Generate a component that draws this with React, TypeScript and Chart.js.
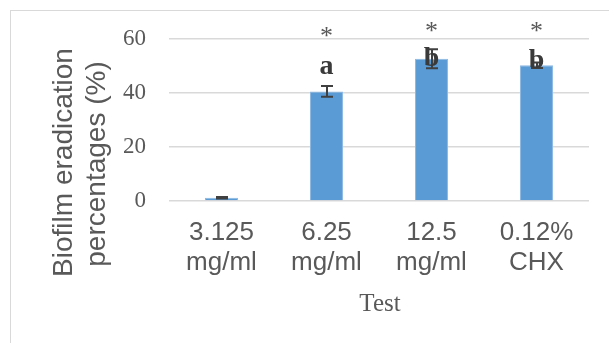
import React, { useEffect, useRef } from "react";
import { Chart, registerables } from "chart.js";

Chart.register(...registerables);

const categories: string[][] = [
  ["3.125", "mg/ml"],
  ["6.25", "mg/ml"],
  ["12.5", "mg/ml"],
  ["0.12%", "CHX"],
];
const values: number[] = [1.2, 40.6, 52.7, 50.3];
const errors: number[] = [0.3, 2, 3.5, 1];
const letters: string[] = ["", "a", "b", "b"];
const letterLevels: number[] = [0, 49.6, 52.6, 52.0];
const stars: string[] = ["", "*", "*", "*"];
const starLevels: number[] = [0, 62.6, 64.4, 64.4];
const yTicks: number[] = [0, 20, 40, 60];
const yTitle: string[] = ["Biofilm eradication", "percentages (%)"];
const xTitle = "Test";

const TEXT = "#595959";

const decorPlugin = {
  id: "decor",
  beforeDraw(chart: any) {
    const ctx = chart.ctx;
    ctx.save();
    ctx.strokeStyle = "#D9D9D9";
    ctx.lineWidth = 1;
    ctx.strokeRect(10.5, 10.5, 800, 600);
    ctx.restore();
  },
  afterDatasetsDraw(chart: any) {
    const ctx = chart.ctx;
    const meta = chart.getDatasetMeta(0);
    const ys = chart.scales.y;
    ctx.save();
    // error bars
    ctx.strokeStyle = "#404040";
    ctx.lineWidth = 2;
    meta.data.forEach((bar: any, i: number) => {
      const x = Math.round(bar.x);
      const top = ys.getPixelForValue(values[i] + errors[i]);
      const bot = ys.getPixelForValue(values[i] - errors[i]);
      ctx.beginPath();
      ctx.moveTo(x, top);
      ctx.lineTo(x, bot);
      ctx.moveTo(x - 6, top);
      ctx.lineTo(x + 6, top);
      ctx.moveTo(x - 6, bot);
      ctx.lineTo(x + 6, bot);
      ctx.stroke();
    });
    // letters
    ctx.textAlign = "center";
    ctx.textBaseline = "middle";
    meta.data.forEach((bar: any, i: number) => {
      if (letters[i]) {
        ctx.fillStyle = "#3A3A3A";
        ctx.font = "bold 28px 'Liberation Serif', 'Times New Roman', serif";
        ctx.fillText(letters[i], bar.x, ys.getPixelForValue(letterLevels[i]));
      }
      if (stars[i]) {
        ctx.fillStyle = TEXT;
        ctx.font = "26px 'Liberation Serif', 'Times New Roman', serif";
        ctx.fillText(stars[i], bar.x, ys.getPixelForValue(starLevels[i]) + 5);
      }
    });
    // axis titles
    ctx.fillStyle = TEXT;
    ctx.font = "28px 'Liberation Sans', Arial, sans-serif";
    ctx.textBaseline = "alphabetic";
    const baseX = [72, 105];
    const cY = [162.5, 164];
    yTitle.forEach((t, k) => {
      ctx.save();
      ctx.translate(baseX[k], cY[k]);
      ctx.rotate(-Math.PI / 2);
      ctx.fillText(t, 0, 0);
      ctx.restore();
    });
    ctx.font = "25px 'Liberation Serif', 'Times New Roman', serif";
    ctx.textBaseline = "middle";
    const xs = chart.scales.x;
    ctx.fillText(xTitle, (xs.left + xs.right) / 2 + 1, 304);
    ctx.restore();
  },
};

export default function App() {
  const ref = useRef<HTMLCanvasElement>(null);
  useEffect(() => {
    if (!ref.current) return;
    const chart = new Chart(ref.current, {
      type: "bar",
      data: {
        labels: categories,
        datasets: [
          {
            data: values,
            backgroundColor: "#5B9BD5",
            borderColor: "#8DB9E3",
            borderWidth: 1,
            categoryPercentage: 1,
            barPercentage: 0.314,
          },
        ],
      },
      options: {
        responsive: false,
        animation: false,
        layout: { padding: { top: 39, left: 0, right: 20, bottom: 0 } },
        plugins: { legend: { display: false }, tooltip: { enabled: false } },
        scales: {
          x: {
            grid: { display: false, drawTicks: false },
            border: { display: false },
            ticks: {
              color: TEXT,
              padding: 17,
              maxRotation: 0,
              autoSkip: false,
              font: { family: "'Liberation Sans', Arial, sans-serif", size: 26, lineHeight: 30 / 26 },
            },
            afterFit(scale: any) {
              scale.height = 142;
            },
          },
          y: {
            min: 0,
            max: 60,
            afterBuildTicks(scale: any) {
              scale.ticks = yTicks.map((v) => ({ value: v }));
            },
            grid: { color: "#D9D9D9", lineWidth: 1.5, drawTicks: false },
            border: { display: false },
            ticks: {
              color: TEXT,
              padding: 23,
              font: { family: "'Liberation Serif', 'Times New Roman', serif", size: 23 },
            },
            afterFit(scale: any) {
              scale.width = 169;
            },
          },
        },
      },
      plugins: [decorPlugin],
    });
    return () => chart.destroy();
  }, []);
  return (
    <div style={{ position: "absolute", left: 0, top: 0, width: 609, height: 343, background: "#fff" }}>
      <canvas ref={ref} width={609} height={343} style={{ display: "block" }} />
    </div>
  );
}
